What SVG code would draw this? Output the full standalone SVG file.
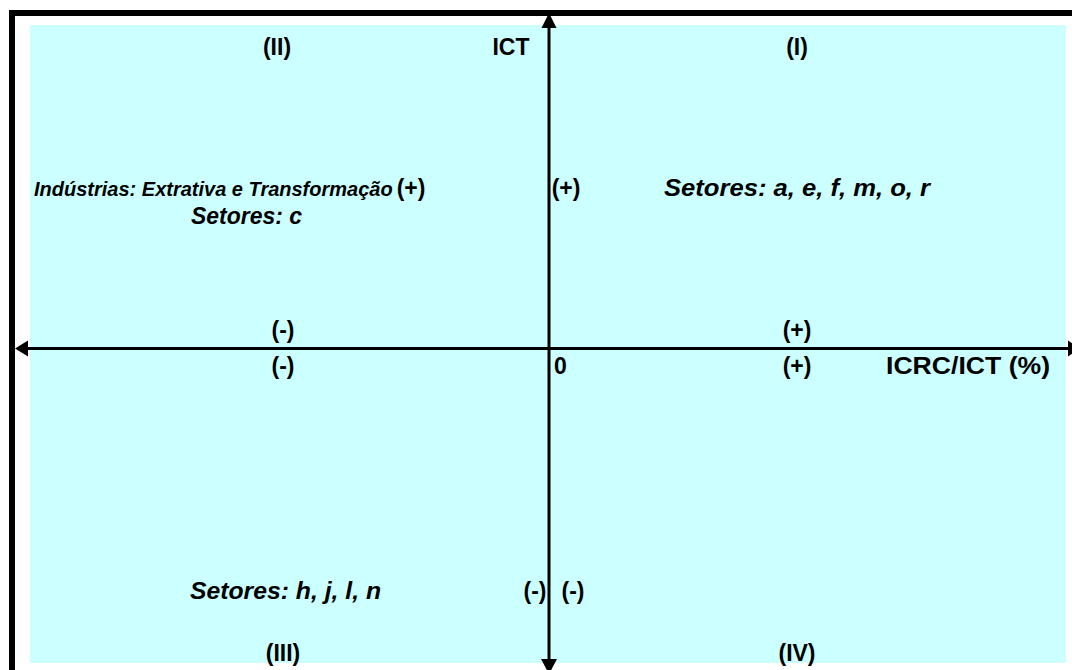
<svg xmlns="http://www.w3.org/2000/svg" width="1072" height="670" viewBox="0 0 1072 670">
<style>
  text { font-family: "Liberation Sans", Arial, sans-serif; font-weight: bold; font-size: 23px; fill: #000; }
  .c { text-anchor: middle; }
  .i { font-style: italic; }
  .s { font-size: 20px; }
  .axis { stroke: #000; stroke-width: 3; fill: none; }
  .head { fill: #000; }
</style>
<rect x="0" y="0" width="1072" height="670" fill="#ffffff"/>
<g id="frame">
  <rect x="9" y="10" width="1063" height="6" fill="#000"/>
  <rect x="9" y="10" width="6" height="660" fill="#000"/>
  <rect x="30" y="25" width="1036" height="638" fill="#CCFFFF"/>
</g>
<g id="connectors">
  <line class="axis" x1="549" y1="26" x2="549" y2="661"/>
  <polygon class="head" points="549,13 541.5,28 556.5,28"/>
  <polygon class="head" points="549,674 541,659 557,659"/>
  <line class="axis" x1="26" y1="348.5" x2="1072" y2="348.5"/>
  <polygon class="head" points="15,348.5 28,340.5 28,356.5"/>
  <polygon class="head" points="1080,348.5 1068,340.5 1068,356.5"/>
</g>
<g id="quadrant-II">
  <text class="c" x="277" y="55">(II)</text>
  <text class="i s" x="34" y="196">Indústrias: Extrativa e Transformação</text>
  <text class="i" x="191" y="224" textLength="111" lengthAdjust="spacingAndGlyphs">Setores: c</text>
</g>
<g id="quadrant-I">
  <text class="c" x="797" y="55">(I)</text>
  <text class="i" x="664" y="196" textLength="266" lengthAdjust="spacingAndGlyphs">Setores: a, e, f, m, o, r</text>
</g>
<g id="quadrant-III">
  <text class="i" x="190" y="599" textLength="191" lengthAdjust="spacingAndGlyphs">Setores: h, j, l, n</text>
  <text class="c" x="283" y="661">(III)</text>
</g>
<g id="quadrant-IV">
  <text class="c" x="797" y="661">(IV)</text>
</g>
<g id="axis-labels">
  <text class="c" x="511" y="55">ICT</text>
  <text class="c" x="411" y="196">(+)</text>
  <text class="c" x="566" y="196">(+)</text>
  <text class="c" x="283" y="338">(-)</text>
  <text class="c" x="797" y="338">(+)</text>
  <text class="c" x="283" y="374">(-)</text>
  <text x="554" y="374">0</text>
  <text class="c" x="797" y="374">(+)</text>
  <text x="886" y="374" textLength="164" lengthAdjust="spacingAndGlyphs">ICRC/ICT (%)</text>
  <text class="c" x="535" y="599">(-)</text>
  <text class="c" x="573" y="599">(-)</text>
</g>
</svg>
